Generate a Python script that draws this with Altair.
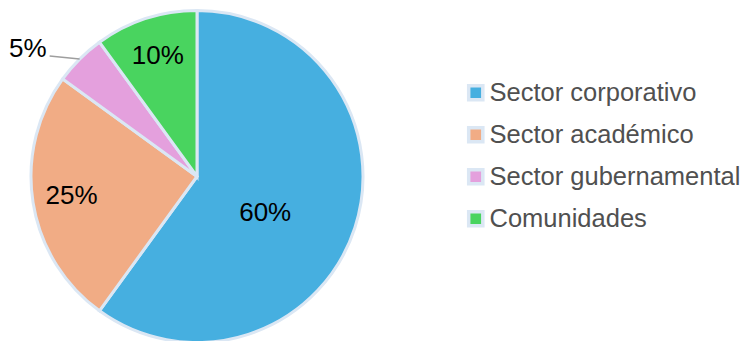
import altair as alt
import pandas as pd

categories = ["Sector corporativo", "Sector académico", "Sector gubernamental", "Comunidades"]
values = [60, 25, 5, 10]
labels = ["60%", "25%", "5%", "10%"]
colors = ["#46afe0", "#f1ac85", "#e4a0dd", "#49d45f"]

df = pd.DataFrame({"cat": categories, "value": values, "label": labels, "idx": list(range(len(categories)))})

W, H = 394, 329
CX, CY = W / 2, H / 2
R = 166
TWO_PI = 6.283185307

color = alt.Color(
    "cat:N",
    scale=alt.Scale(domain=categories, range=colors),
    sort=categories,
    legend=alt.Legend(
        title=None,
        orient="none",
        legendX=463,
        legendY=68,
        symbolType="square",
        symbolSize=200,
        symbolStrokeColor="#dbe7f4",
        symbolStrokeWidth=3.5,
        labelFont="Liberation Sans",
        labelFontSize=25.5,
        labelColor="#505050",
        labelLimit=400,
        rowPadding=13,
        labelOffset=1,
    ),
)

base = alt.Chart(df)

pie = base.mark_arc(outerRadius=R, stroke="#dbe7f4", strokeWidth=3).encode(
    theta=alt.Theta("value:Q", stack=True),
    order=alt.Order("idx:Q"),
    color=color,
)

geo = base.transform_window(
    cum="sum(value)", sort=[alt.SortField("idx")], frame=[None, 0]
).transform_calculate(
    mid="datum.cum - datum.value/2",
    ang=f"(datum.cum - datum.value/2) / 100 * {TWO_PI}",
)

theta_mid = alt.Theta("mid:Q", scale=alt.Scale(domain=[0, 100], range=[0, TWO_PI]))

text_big = geo.transform_filter("datum.idx == 0").mark_text(
    radius=78, fontSize=26, font="Liberation Sans", color="#000000", dx=-6, dy=12
).encode(theta=theta_mid, text="label:N")

text_mid = geo.transform_filter("datum.idx == 1 || datum.idx == 3").mark_text(
    radius=127, fontSize=26, font="Liberation Sans", color="#000000"
).encode(theta=theta_mid, text="label:N")

small = geo.transform_filter("datum.value < 8").transform_calculate(
    ex=f"{CX} + {R} * sin(datum.ang)",
    ey=f"{CY} - {R} * cos(datum.ang)",
).transform_calculate(
    lx="datum.ex - 30",
    ly="datum.ey - 3",
)

leader = small.mark_rule(color="#9e9e9e", strokeWidth=1.5).encode(
    x=alt.X("ex:Q", scale=None),
    y=alt.Y("ey:Q", scale=None),
    x2="lx:Q",
    y2="ly:Q",
)

text_out = small.mark_text(
    fontSize=26, font="Liberation Sans", color="#000000", align="right", dx=-3, dy=-7
).encode(
    x=alt.X("lx:Q", scale=None),
    y=alt.Y("ly:Q", scale=None),
    text="label:N",
)

chart = alt.layer(pie, leader, text_big, text_mid, text_out).properties(
    width=W,
    height=H,
    background="#ffffff",
    autosize=alt.AutoSizeParams(type="none"),
    padding={"left": 0, "top": 12, "right": 740 - W, "bottom": 0},
).configure_view(strokeWidth=0, stroke="transparent")

chart.save("out.html", embed_options={"renderer": "svg", "actions": False})
